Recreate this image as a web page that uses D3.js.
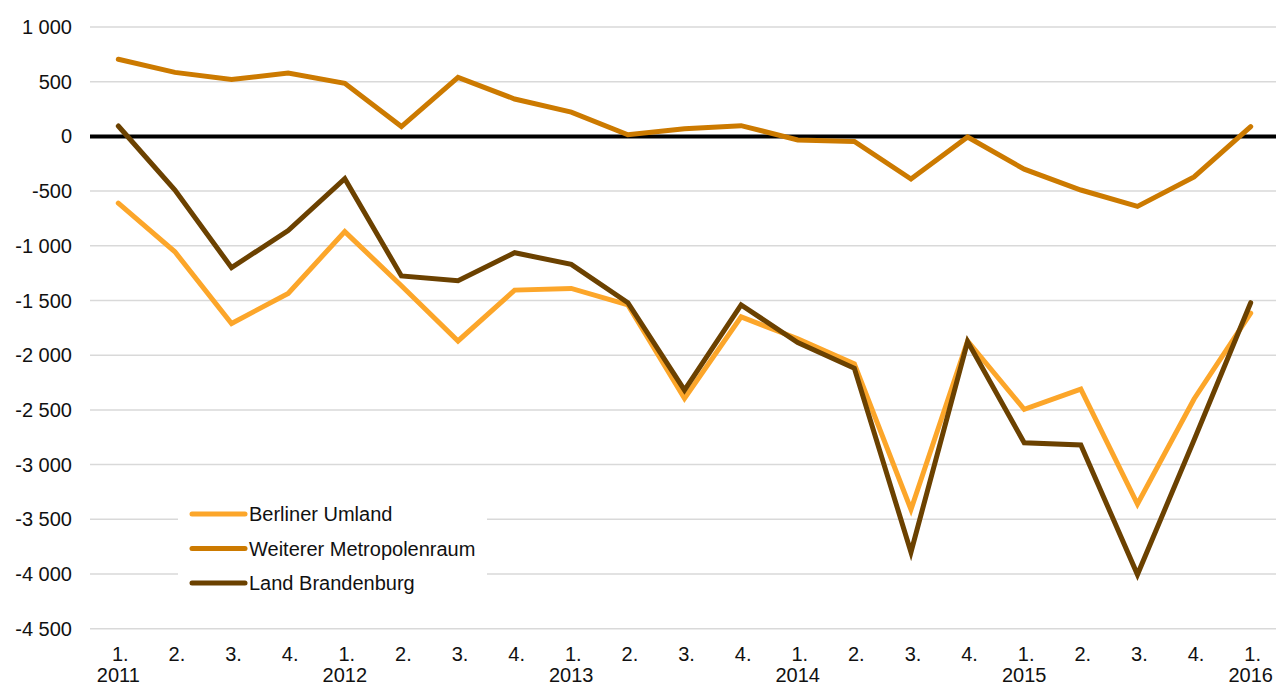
<!DOCTYPE html>
<html>
<head>
<meta charset="utf-8">
<script src="https://cdn.jsdelivr.net/npm/d3@7"></script>
<style>
  body { margin: 0; background: #fff; }
  svg { display: block; font-family: "Liberation Sans", Arial, sans-serif; }
</style>
</head>
<body>
<div id="wrapper"></div>
<script>
// quarters 1/2011 .. 1/2016
const quarters = ["1.", "2.", "3.", "4.", "1.", "2.", "3.", "4.", "1.", "2.", "3.", "4.",
  "1.", "2.", "3.", "4.", "1.", "2.", "3.", "4.", "1."]
const years = ["2011", "", "", "", "2012", "", "", "", "2013", "", "", "",
  "2014", "", "", "", "2015", "", "", "", "2016"]

const berlinerUmland = [-610, -1055, -1710, -1435, -870, -1365, -1870, -1405, -1390, -1540,
  -2395, -1650, -1850, -2080, -3410, -1870, -2495, -2310, -3360, -2400, -1615]
const weitererMetropolenraum = [705, 585, 520, 580, 485, 90, 540, 342, 222, 15,
  70, 98, -32, -46, -390, -6, -300, -490, -640, -370, 90]
const landBrandenburg = [95, -490, -1200, -860, -387, -1275, -1320, -1063, -1170, -1520,
  -2320, -1540, -1885, -2120, -3800, -1875, -2800, -2820, -4005, -2775, -1520]

const seriesNames = ["Berliner Umland", "Weiterer Metropolenraum", "Land Brandenburg"]
const seriesColors = ["#fca62a", "#cc7a00", "#6b4100"]
const yTicks = [1000, 500, 0, -500, -1000, -1500, -2000, -2500, -3000, -3500, -4000, -4500]

const series = [berlinerUmland, weitererMetropolenraum, landBrandenburg]

const width = 1276
const height = 686
const fontSize = "20px"

const svg = d3.select("#wrapper")
  .append("svg")
  .attr("width", width)
  .attr("height", height)

const xScale = d3.scalePoint()
  .domain(d3.range(quarters.length))
  .range([90, 1279])
  .padding(0.5)

const yScale = d3.scaleLinear()
  .domain([-4500, 1000])
  .range([628.7, 27])

// gridlines
svg.append("g")
  .selectAll("line")
  .data(yTicks.filter(d => d !== 0))
  .join("line")
  .attr("x1", 90)
  .attr("x2", width)
  .attr("y1", d => yScale(d))
  .attr("y2", d => yScale(d))
  .attr("stroke", "#d9d9d9")
  .attr("stroke-width", 1.5)

// y labels: space as thousands separator, plain hyphen as minus
const fmt = d => (d < 0 ? "-" : "") + d3.format(",")(Math.abs(d)).replace(/,/g, " ")
svg.append("g")
  .selectAll("text")
  .data(yTicks)
  .join("text")
  .attr("x", 72)
  .attr("y", d => yScale(d))
  .attr("dy", "0.35em")
  .attr("text-anchor", "end")
  .style("font-size", fontSize)
  .style("fill", "#111")
  .text(fmt)

// x labels
const xLabels = svg.append("g")
xLabels.selectAll("text.q")
  .data(quarters)
  .join("text")
  .attr("class", "q")
  .attr("x", (d, i) => xScale(i) + 2)
  .attr("y", 661)
  .attr("text-anchor", "middle")
  .style("font-size", fontSize)
  .style("fill", "#111")
  .text(d => d)

xLabels.selectAll("text.y")
  .data(years)
  .join("text")
  .attr("class", "y")
  .attr("x", (d, i) => xScale(i))
  .attr("y", 682)
  .attr("text-anchor", "middle")
  .style("font-size", fontSize)
  .style("fill", "#111")
  .text(d => d)

// legend background (hides gridlines behind it)
svg.append("rect")
  .attr("x", 178)
  .attr("y", 492)
  .attr("width", 309)
  .attr("height", 108)
  .attr("fill", "#fff")

// zero line
svg.append("line")
  .attr("x1", 90)
  .attr("x2", width)
  .attr("y1", yScale(0))
  .attr("y2", yScale(0))
  .attr("stroke", "#000")
  .attr("stroke-width", 4)

const lineGen = d3.line()
  .x((d, i) => xScale(i))
  .y(d => yScale(d))

svg.append("g")
  .selectAll("path")
  .data(series)
  .join("path")
  .attr("d", lineGen)
  .attr("fill", "none")
  .attr("stroke", (d, i) => seriesColors[i])
  .attr("stroke-width", 5)
  .attr("stroke-linejoin", "miter")
  .attr("stroke-linecap", "round")

// legend
const legend = svg.append("g")
  .selectAll("g")
  .data(seriesNames)
  .join("g")
  .attr("transform", (d, i) => `translate(0, ${514 + i * 34.5})`)

legend.append("line")
  .attr("x1", 192)
  .attr("x2", 245)
  .attr("stroke", (d, i) => seriesColors[i])
  .attr("stroke-width", 5)
  .attr("stroke-linecap", "round")

legend.append("text")
  .attr("x", 249)
  .attr("dy", "0.35em")
  .style("font-size", fontSize)
  .style("fill", "#111")
  .text(d => d)
</script>
</body>
</html>
